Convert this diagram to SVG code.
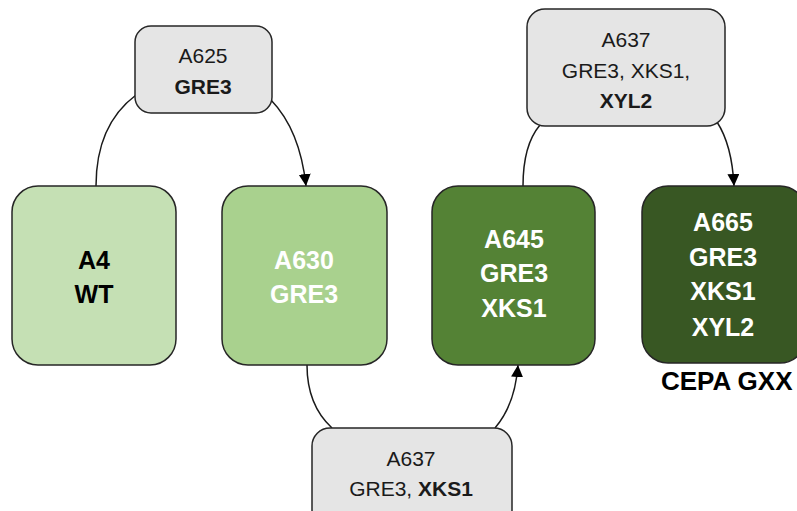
<svg xmlns="http://www.w3.org/2000/svg" width="797" height="511" viewBox="0 0 797 511">
<defs>
<marker id="arr" markerUnits="userSpaceOnUse" markerWidth="12" markerHeight="14" refX="12" refY="6" orient="auto">
<path d="M0,0 L12,6 L0,12 Z" fill="#000"/>
</marker>
<style>
.box{stroke:#262626;stroke-width:1.5}
.gray{fill:#E5E5E5}
.t{font-family:"Liberation Sans",Arial,sans-serif;text-anchor:middle}
.s{font-size:21px;fill:#1a1a1a}
.b{font-weight:bold}
.g{font-size:25px;font-weight:bold}
.w{fill:#fff}
.k{fill:#000}
.con{fill:none;stroke:#1a1a1a;stroke-width:1.5}
</style>
</defs>
<rect width="797" height="511" fill="#fff"/>
<g id="connectors">
<path class="con" d="M96,186 Q96,125 136,95"/>
<path class="con" d="M271,100 Q300,130 306,186" marker-end="url(#arr)"/>
<path class="con" d="M307,365 Q307,405 332,428"/>
<path class="con" d="M495,428 Q515,405 518,365" marker-end="url(#arr)"/>
<path class="con" d="M523,186 Q523,145 540,125"/>
<path class="con" d="M717,122 Q732,145 734,186" marker-end="url(#arr)"/>
</g>
<g id="A625">
<rect class="box gray" x="135" y="26" width="137" height="87" rx="16"/>
<text class="t s" x="203" y="63">A625</text>
<text class="t s b" x="203" y="94">GRE3</text>
</g>
<g id="A637top">
<rect class="box gray" x="527" y="9" width="198" height="117" rx="18"/>
<text class="t s" x="626" y="47">A637</text>
<text class="t s" x="626" y="78">GRE3, XKS1,</text>
<text class="t s b" x="626" y="108">XYL2</text>
</g>
<g id="A637bottom">
<rect class="box gray" x="312" y="428" width="200" height="100" rx="18"/>
<text class="t s" x="411" y="466">A637</text>
<text class="t s" x="411" y="496">GRE3, <tspan class="b">XKS1</tspan></text>
</g>
<g id="A4">
<rect class="box" x="12" y="186" width="164" height="179" rx="26" fill="#C5E0B4"/>
<text class="t g k" x="94" y="269">A4</text>
<text class="t g k" x="94" y="303">WT</text>
</g>
<g id="A630">
<rect class="box" x="222" y="186" width="165" height="179" rx="26" fill="#A9D18E"/>
<text class="t g w" x="304" y="269">A630</text>
<text class="t g w" x="304" y="303">GRE3</text>
</g>
<g id="A645">
<rect class="box" x="432" y="186" width="163" height="179" rx="26" fill="#548235"/>
<text class="t g w" x="514" y="248">A645</text>
<text class="t g w" x="514" y="282">GRE3</text>
<text class="t g w" x="514" y="317">XKS1</text>
</g>
<g id="A665">
<rect class="box" x="642" y="186" width="164" height="177" rx="26" fill="#385723"/>
<text class="t g w" x="723" y="231">A665</text>
<text class="t g w" x="723" y="266">GRE3</text>
<text class="t g w" x="723" y="300">XKS1</text>
<text class="t g w" x="723" y="336">XYL2</text>
<text class="b k" x="661" y="390" style="font-family:'Liberation Sans',Arial,sans-serif;font-size:26px">CEPA GXX</text>
</g>
</svg>
